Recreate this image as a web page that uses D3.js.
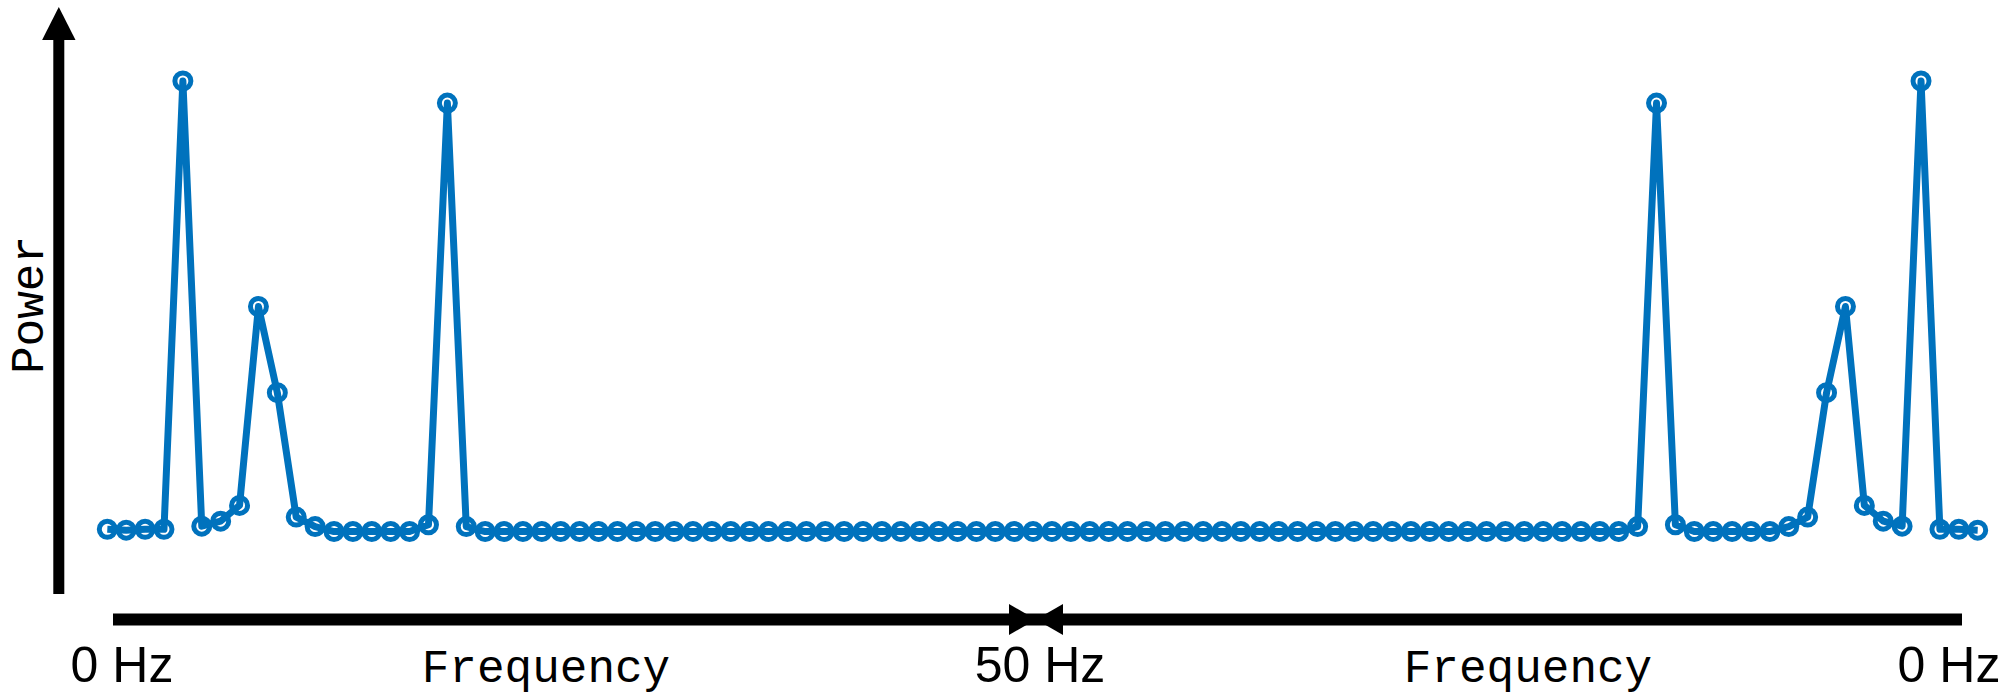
<!DOCTYPE html>
<html>
<head>
<meta charset="utf-8">
<script src="https://cdn.jsdelivr.net/npm/d3@7"></script>
<style>
	body { margin: 0; background: #fff; }
	svg { display: block; }
</style>
</head>
<body>
<svg id="chart"></svg>
<script>
// power spectrum, bins 0..99 (mirror image around 50 Hz)
const power = [
	0.6, 0.4, 0.6, 0.6, 100, 1.3, 2.4, 5.9, 50, 30.9,
	3.3, 1.2, 0.1, 0.1, 0.1, 0.1, 0.1, 1.6, 95.1, 1.2,
	0.1, 0.1, 0.1, 0.1, 0.1, 0.1, 0.1, 0.1, 0.1, 0.1,
	0.1, 0.1, 0.1, 0.1, 0.1, 0.1, 0.1, 0.1, 0.1, 0.1,
	0.1, 0.1, 0.1, 0.1, 0.1, 0.1, 0.1, 0.1, 0.1, 0.1,
	0.1, 0.1, 0.1, 0.1, 0.1, 0.1, 0.1, 0.1, 0.1, 0.1,
	0.1, 0.1, 0.1, 0.1, 0.1, 0.1, 0.1, 0.1, 0.1, 0.1,
	0.1, 0.1, 0.1, 0.1, 0.1, 0.1, 0.1, 0.1, 0.1, 0.1,
	0.1, 1.2, 95.1, 1.6, 0.1, 0.1, 0.1, 0.1, 0.1, 1.2,
	3.3, 30.9, 50, 5.9, 2.4, 1.3, 100, 0.6, 0.6, 0.4
];

const bins = power.map((p, i) => i);

const freqLabels = ['0 Hz', '50 Hz', '0 Hz'];
const axisTitles = ['Frequency', 'Frequency'];
const yTitle = 'Power';

let outer_width = 2011
let outer_height = 696

const blue = '#0072BD';

const container = d3.select('#chart')
	.attr('width', outer_width)
	.attr('height', outer_height)
	.style('background', '#fff')

const xScale = d3
	.scaleLinear()
	.domain([0, bins.length - 1])
	.range([107.3, 1977.7]);

const yScale = d3
	.scaleLinear()
	.domain([0, 100])
	.range([532, 81]);

/*axis arrows*/
const arrows = container.append('g').attr('fill', '#000')

// vertical power arrow
arrows.append('rect')
	.attr('x', 53.3)
	.attr('y', 38)
	.attr('width', 11)
	.attr('height', 594 - 38)

arrows.append('path')
	.attr('d', 'M58.8,7 L75.5,40 L42.1,40 Z')

// horizontal frequency arrow, meeting in the middle
const midX = 1036
const axisY = 619.5

arrows.append('rect')
	.attr('x', 113)
	.attr('y', axisY - 6)
	.attr('width', 1962 - 113)
	.attr('height', 12)

arrows.append('path')
	.attr('d', `M${midX},${axisY} L${midX - 27},${axisY - 15.5} L${midX - 27},${axisY + 15.5} Z`)

arrows.append('path')
	.attr('d', `M${midX},${axisY} L${midX + 27},${axisY - 15.5} L${midX + 27},${axisY + 15.5} Z`)

/*spectrum*/
const chart = container.append('g')

const line = d3.line()
	.x((d, i) => xScale(bins[i]))
	.y(d => yScale(d))

chart.append('path')
	.datum(power)
	.attr('d', line)
	.attr('fill', 'none')
	.attr('stroke', blue)
	.attr('stroke-width', 7)
	.attr('stroke-linejoin', 'round')

chart
	.selectAll('.marker')
	.data(power)
	.enter()
	.append('circle')
	.classed('marker', true)
	.attr('cx', (d, i) => xScale(bins[i]))
	.attr('cy', d => yScale(d))
	.attr('r', 8)
	.attr('fill', 'none')
	.attr('stroke', blue)
	.attr('stroke-width', 5)

/*labels*/
const labelY = 682

container
	.selectAll('.hz')
	.data(freqLabels)
	.enter()
	.append('text')
	.classed('hz', true)
	.text(d => d)
	.attr('x', (d, i) => [122, 1040, 1949][i])
	.attr('y', labelY)
	.attr('text-anchor', 'middle')
	.attr('font-family', '"Liberation Sans", Arial, sans-serif')
	.attr('font-size', '50px')
	.attr('fill', '#000')

container
	.selectAll('.freq')
	.data(axisTitles)
	.enter()
	.append('text')
	.classed('freq', true)
	.text(d => d)
	.attr('x', (d, i) => [546, 1528][i])
	.attr('y', labelY)
	.attr('text-anchor', 'middle')
	.attr('font-family', '"Liberation Mono", "Courier New", monospace')
	.attr('font-size', '46px')
	.attr('fill', '#000')

container.append('text')
	.text(yTitle)
	.attr('transform', 'translate(43,305) rotate(-90)')
	.attr('text-anchor', 'middle')
	.attr('font-family', '"Liberation Mono", "Courier New", monospace')
	.attr('font-size', '46px')
	.attr('fill', '#000')
</script>
</body>
</html>
